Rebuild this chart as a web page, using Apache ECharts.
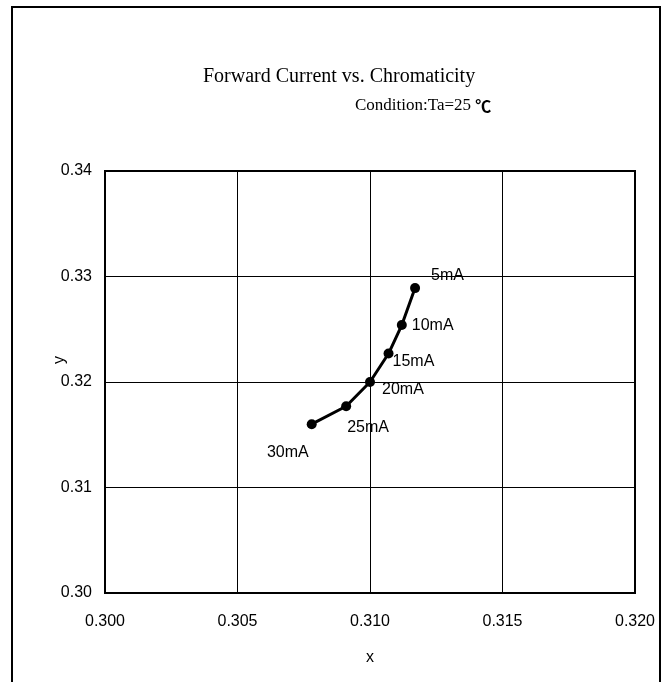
<!DOCTYPE html>
<html>
<head>
<meta charset="utf-8">
<script src="https://cdn.jsdelivr.net/npm/echarts@6/dist/echarts.min.js"></script>
<style>
  html, body { margin: 0; padding: 0; background: #fff; }
  #chart { width: 667px; height: 682px; }
</style>
</head>
<body>
<div id="chart"></div>
<script>
// 数据
const currents = ['5mA', '10mA', '15mA', '20mA', '25mA', '30mA']
const chromaX = [0.3117, 0.3112, 0.3107, 0.3100, 0.3091, 0.3078]
const chromaY = [0.3289, 0.3254, 0.3227, 0.3200, 0.3177, 0.3160]
const xTicks = [0.300, 0.305, 0.310, 0.315, 0.320]
const yTicks = [0.30, 0.31, 0.32, 0.33, 0.34]

// 标签偏移 (相对于点)
const labelAlign = ['left', 'left', 'left', 'left', 'left', 'right']
const labelOffset = [[16, -13], [10, 1], [4, 8], [12, 8], [1, 21], [-3, 28]]

const tickFont = {
    color: '#000',
    fontSize: 16,
    fontFamily: 'Liberation Sans, Arial, sans-serif'
}

let mychart = echarts.init(document.getElementById('chart'))

let points = chromaX.map((x, i) => ({
    value: [x, chromaY[i]],
    label: {
        show: true,
        formatter: currents[i],
        position: 'inside',
        align: labelAlign[i],
        verticalAlign: 'middle',
        offset: labelOffset[i],
        ...tickFont
    }
}))

let option = {
    backgroundColor: '#fff',
    animation: false,
    title: [
        {
            text: 'Forward Current vs. Chromaticity',
            left: 198,
            top: 62,
            textStyle: {
                color: '#000',
                fontWeight: 'normal',
                fontSize: 20,
                fontFamily: 'Liberation Serif, Times New Roman, serif'
            }
        },
        {
            text: '{a|Condition:Ta=25 }{b|℃}',
            left: 350,
            top: 92,
            textStyle: {
                fontWeight: 'normal',
                rich: {
                    a: {
                        color: '#000',
                        fontSize: 17,
                        fontWeight: 'normal',
                        fontFamily: 'Liberation Serif, Times New Roman, serif'
                    },
                    b: {
                        color: '#000',
                        fontSize: 16,
                        fontWeight: 'bold',
                        fontFamily: 'Noto Sans CJK JP, sans-serif'
                    }
                }
            }
        }
    ],
    graphic: [
        {
            type: 'rect',
            shape: { x: 12, y: 7, width: 648, height: 690 },
            style: { fill: 'none', stroke: '#000', lineWidth: 2 },
            silent: true
        }
    ],
    grid: {
        left: 105,
        right: 32,
        top: 171,
        bottom: 89,
        show: true,
        borderColor: '#000',
        borderWidth: 2,
        backgroundColor: '#fff'
    },
    xAxis: {
        type: 'value',
        min: xTicks[0],
        max: xTicks[xTicks.length - 1],
        interval: 0.005,
        name: 'x',
        nameLocation: 'middle',
        nameGap: 57,
        nameMoveOverlap: false,
        nameTextStyle: tickFont,
        axisLine: { show: true, lineStyle: { color: '#000', width: 2 } },
        axisTick: { show: false },
        axisLabel: {
            margin: 21,
            formatter: v => v.toFixed(3),
            ...tickFont
        },
        splitLine: { show: true, lineStyle: { color: '#000', width: 1 } }
    },
    yAxis: {
        type: 'value',
        min: yTicks[0],
        max: yTicks[yTicks.length - 1],
        interval: 0.01,
        name: 'y',
        nameLocation: 'middle',
        nameRotate: 90,
        nameGap: 37,
        nameMoveOverlap: false,
        nameTextStyle: {
            ...tickFont,
            padding: [0, 0, 0, 44]
        },
        axisLine: { show: true, lineStyle: { color: '#000', width: 2 } },
        axisTick: { show: false },
        axisLabel: {
            margin: 13,
            formatter: v => v.toFixed(2),
            ...tickFont
        },
        splitLine: { show: true, lineStyle: { color: '#000', width: 1 } }
    },
    series: [
        {
            name: 'chromaticity',
            type: 'line',
            data: points,
            symbol: 'circle',
            symbolSize: 10,
            itemStyle: { color: '#000' },
            lineStyle: { color: '#000', width: 3 }
        }
    ]
}

mychart.setOption(option)
</script>
</body>
</html>
